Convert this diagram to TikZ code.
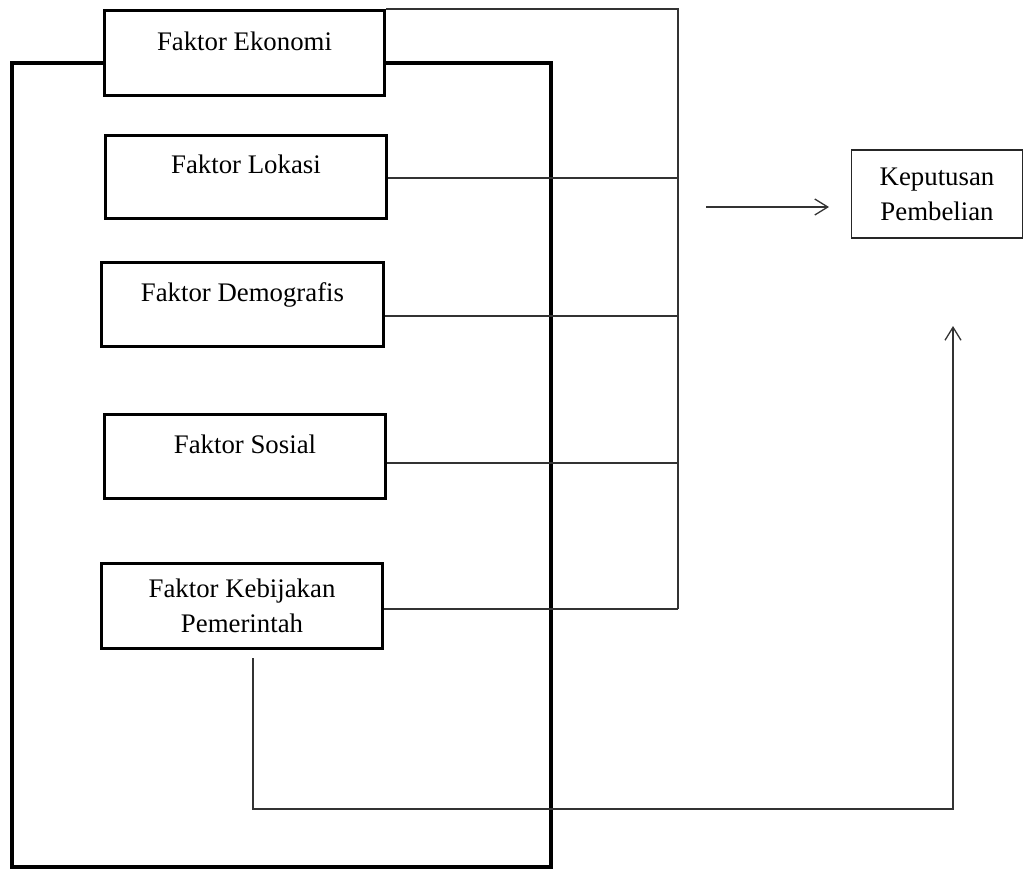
\documentclass[tikz,border=0pt]{standalone}
\usepackage{fontspec}
\setmainfont{Liberation Serif}
\usetikzlibrary{arrows.meta}
\begin{document}
\begin{tikzpicture}[x=1pt,y=-1pt,
  thickbox/.style={draw=black, fill=white, line width=3.6pt, inner sep=0pt, rectangle},
  thinbox/.style={draw=black!85, fill=white, line width=1.3pt, inner sep=0pt, rectangle},
  lbl/.style={anchor=base, inner sep=0pt, font=\fontsize{26.8}{35}\selectfont, align=center},
  conn/.style={draw=black!80, line width=1.3pt},
  arr/.style={conn, -{Straight Barb[length=13pt,width=16pt,line width=1.3pt]}}]
\useasboundingbox (0,0) rectangle (1024,871);
% big frame
\draw[line width=4pt, line join=miter] (12,63) rectangle (551,867);
% factor boxes
\node[thickbox, minimum width=280pt, minimum height=85pt] (eko) at (244.5,53) {};
\node[thickbox, minimum width=281pt, minimum height=83pt] (lok) at (246,177) {};
\node[thickbox, minimum width=282pt, minimum height=84pt] (dem) at (242.5,304.5) {};
\node[thickbox, minimum width=281pt, minimum height=84pt] (sos) at (245,456.5) {};
\node[thickbox, minimum width=281pt, minimum height=85pt] (keb) at (242,606) {};
\node[thinbox, minimum width=171pt, minimum height=88pt] (kep) at (937,194) {};
% labels
\node[lbl] (ekoT) at (244.5,50) {Faktor Ekonomi};
\node[lbl] (lokT) at (246,173) {Faktor Lokasi};
\node[lbl] (demT) at (242.5,301) {Faktor Demografis};
\node[lbl] (sosT) at (245,453) {Faktor Sosial};
\node[lbl] (kebT1) at (242,597) {Faktor Kebijakan};
\node[lbl] (kebT2) at (242,632) {Pemerintah};
\node[lbl] (kepT1) at (937,185) {Keputusan};
\node[lbl] (kepT2) at (937,220) {Pembelian};
% bus coordinates
\coordinate (b0) at (678,9);
\coordinate (b1) at (678,178);
\coordinate (b2) at (678,316);
\coordinate (b3) at (678,463);
\coordinate (b4) at (678,609);
\draw[conn] (eko.north east |- b0) -- (b0) -- (b4);
\draw[conn] (lok.east |- b1) -- (b1);
\draw[conn] (dem.east |- b2) -- (b2);
\draw[conn] (sos.east |- b3) -- (b3);
\draw[conn] (keb.east |- b4) -- (b4);
% arrow to decision
\coordinate (a1) at (706,207);
\coordinate (a2) at (829,207);
\draw[arr] (a1) -- (a2);
% government line
\coordinate (k0) at (253,658);
\coordinate (k1) at (253,809);
\coordinate (k2) at (953,809);
\coordinate (k3) at (953,326);
\draw[arr] (k0) -- (k1) -- (k2) -- (k3);
\end{tikzpicture}
\end{document}
